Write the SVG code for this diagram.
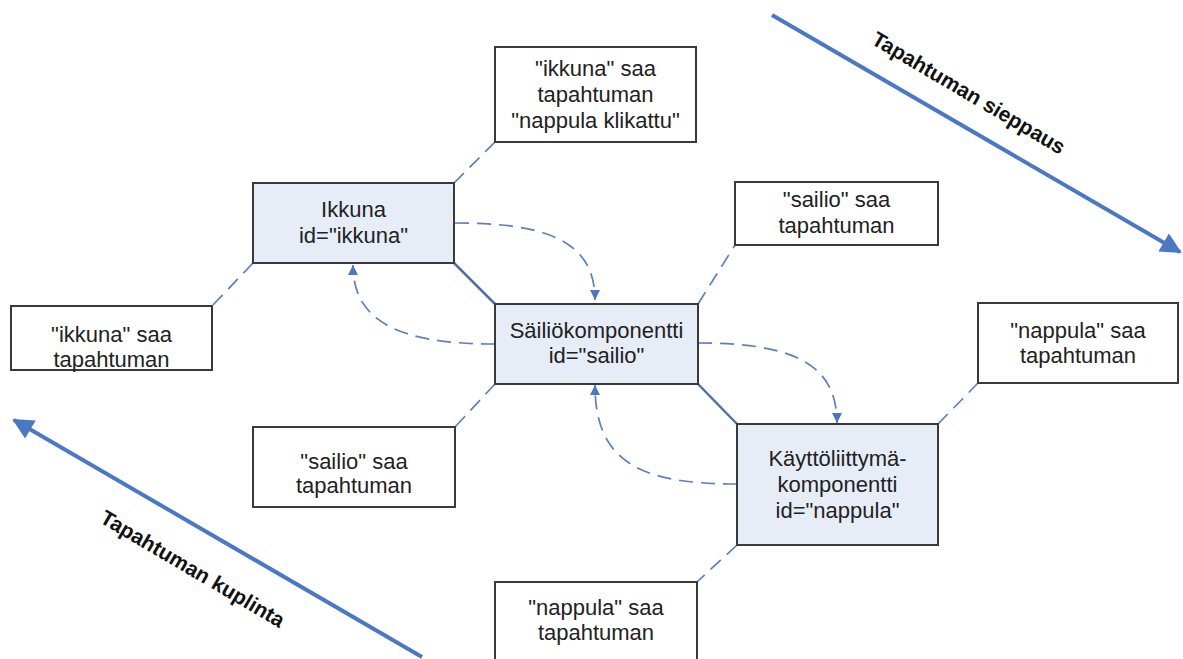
<svg xmlns="http://www.w3.org/2000/svg" width="1183" height="659" viewBox="0 0 1183 659">
  <defs>
    <style>
      .comp { fill: #e7edf7; stroke: #3a3a3a; stroke-width: 2; }
      .note { fill: #ffffff; stroke: #3a3a3a; stroke-width: 2; }
      .lbl { font-family: "Liberation Sans", Arial, sans-serif; font-size: 22px; fill: #222; text-anchor: middle; }
      .flow { font-family: "Liberation Sans", Arial, sans-serif; font-size: 21px; font-weight: bold; fill: #111; text-anchor: middle; }
      .solid { stroke: #4f6fa8; stroke-width: 2.5; fill: none; }
      .dash { stroke: #5b7fbf; stroke-width: 1.7; fill: none; stroke-dasharray: 14 8; }
      .big { stroke: #4a78c4; stroke-width: 4; fill: none; }
    </style>
    <marker id="tip" viewBox="0 0 10 10" refX="10" refY="5" markerWidth="11" markerHeight="10" markerUnits="userSpaceOnUse" orient="auto">
      <path d="M0,0 L10,5 L0,10 Z" fill="#4f75bf"/>
    </marker>
    <marker id="bigtip" viewBox="0 0 10 10" refX="9" refY="5" markerWidth="25" markerHeight="21" markerUnits="userSpaceOnUse" orient="auto">
      <path d="M0,0 L10,5 L0,10 Z" fill="#4a78c4"/>
    </marker>
  </defs>

  <rect width="1183" height="659" fill="#ffffff"/>

  <!-- connectors -->
  <g id="connectors">
    <!-- containment links -->
    <line class="solid" x1="454" y1="263" x2="495" y2="304"/>
    <line class="solid" x1="698" y1="384" x2="737" y2="424"/>
    <!-- note links -->
    <line class="dash" x1="454" y1="183" x2="495" y2="142"/>
    <line class="dash" x1="253" y1="263" x2="212" y2="306"/>
    <line class="dash" x1="698" y1="304" x2="735" y2="245"/>
    <line class="dash" x1="495" y1="384" x2="455" y2="427"/>
    <line class="dash" x1="938" y1="424" x2="978" y2="383"/>
    <line class="dash" x1="737" y1="545" x2="697" y2="582"/>
    <!-- capture path -->
    <path class="dash" d="M455,223 C545,223 595,240 595,300" marker-end="url(#tip)"/>
    <path class="dash" d="M698,343 C790,343 837,362 837,423" marker-end="url(#tip)"/>
    <!-- bubble path -->
    <path class="dash" d="M737,484 C640,484 595,462 595,385" marker-end="url(#tip)"/>
    <path class="dash" d="M495,344 C400,344 353,322 353,265" marker-end="url(#tip)"/>
    <!-- phase arrows -->
    <line class="big" x1="772" y1="15" x2="1180" y2="252" marker-end="url(#bigtip)"/>
    <line class="big" x1="422" y1="657" x2="14" y2="420" marker-end="url(#bigtip)"/>
  </g>

  <text class="flow" transform="translate(965,99) rotate(30.5)">Tapahtuman sieppaus</text>
  <text class="flow" transform="translate(189,575) rotate(30.5)">Tapahtuman kuplinta</text>

  <!-- components -->
  <g id="ikkuna">
    <rect class="comp" x="253" y="183" width="201" height="80"/>
    <text class="lbl" x="353.5" y="217">Ikkuna</text>
    <text class="lbl" x="353.5" y="243">id="ikkuna"</text>
  </g>
  <g id="sailio">
    <rect class="comp" x="495" y="304" width="203" height="80"/>
    <text class="lbl" x="596.5" y="338">Säiliökomponentti</text>
    <text class="lbl" x="596.5" y="363">id="sailio"</text>
  </g>
  <g id="nappula">
    <rect class="comp" x="737" y="424" width="201" height="121"/>
    <text class="lbl" x="837.5" y="466">Käyttöliittymä-</text>
    <text class="lbl" x="837.5" y="492">komponentti</text>
    <text class="lbl" x="837.5" y="518">id="nappula"</text>
  </g>

  <!-- notes -->
  <g id="note-ikkuna-top">
    <rect class="note" x="495" y="47" width="201" height="95"/>
    <text class="lbl" x="595.5" y="76">"ikkuna" saa</text>
    <text class="lbl" x="595.5" y="102">tapahtuman</text>
    <text class="lbl" x="595.5" y="128">"nappula klikattu"</text>
  </g>
  <g id="note-ikkuna-left">
    <rect class="note" x="11" y="306" width="201" height="64"/>
    <text class="lbl" x="111.5" y="342">"ikkuna" saa</text>
    <text class="lbl" x="111.5" y="367">tapahtuman</text>
  </g>
  <g id="note-sailio-top">
    <rect class="note" x="735" y="182" width="203" height="63"/>
    <text class="lbl" x="836.5" y="207">"sailio" saa</text>
    <text class="lbl" x="836.5" y="233">tapahtuman</text>
  </g>
  <g id="note-sailio-bottom">
    <rect class="note" x="253" y="427" width="202" height="80"/>
    <text class="lbl" x="354" y="469">"sailio" saa</text>
    <text class="lbl" x="354" y="493">tapahtuman</text>
  </g>
  <g id="note-nappula-right">
    <rect class="note" x="978" y="303" width="200" height="80"/>
    <text class="lbl" x="1078" y="338">"nappula" saa</text>
    <text class="lbl" x="1078" y="363">tapahtuman</text>
  </g>
  <g id="note-nappula-bottom">
    <rect class="note" x="495" y="582" width="202" height="90"/>
    <text class="lbl" x="596" y="615">"nappula" saa</text>
    <text class="lbl" x="596" y="640">tapahtuman</text>
  </g>
</svg>
